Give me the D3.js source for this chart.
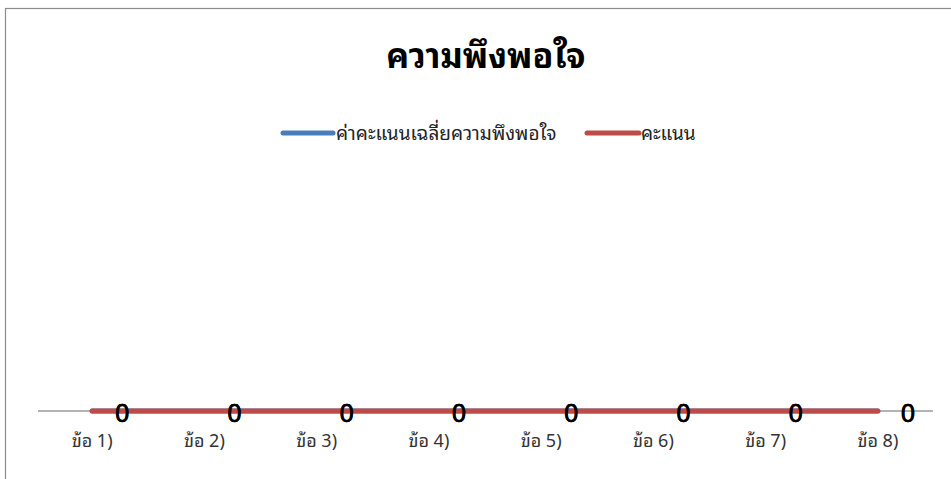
<!DOCTYPE html>
<html><head><meta charset="utf-8">
<script src="https://cdn.jsdelivr.net/npm/d3@7"></script>
<style>body{margin:0;background:#fff;}svg{display:block;}</style>
</head><body>
<svg id="c" width="951" height="479"></svg>
<script>
const categories = ["ข้อ 1)","ข้อ 2)","ข้อ 3)","ข้อ 4)","ข้อ 5)","ข้อ 6)","ข้อ 7)","ข้อ 8)"];
const seriesNames = ["ค่าคะแนนเฉลี่ยความพึงพอใจ","คะแนน"];
const avgScores = [0,0,0,0,0,0,0,0];
const scores = [0,0,0,0,0,0,0,0];
const seriesColors = ["#4a7ebb","#be4b48"];
const title = "ความพึงพอใจ";

const svg = d3.select("#c");
const thaiFont = "'Noto Sans Thai Looped','Noto Serif Thai','Loma','Garuda','Noto Sans Thai','Noto Sans','DejaVu Sans',sans-serif";
// frame
svg.append("rect").attr("x",5.5).attr("y",8.5).attr("width",1000).attr("height",600)
  .attr("fill","none").attr("stroke","#8c8c8c").attr("stroke-width",1.2);

svg.append("text").attr("x",486).attr("y",68).attr("text-anchor","middle")
  .attr("font-family",thaiFont).attr("font-weight","bold").attr("font-size",34).attr("fill","#000").text(title);

const x = d3.scaleBand().domain(categories).range([36,934]).paddingInner(0).paddingOuter(0);
const y = d3.scaleLinear().domain([0,1]).range([411,170]);

// axis
const xAxis = d3.axisBottom(x).tickSize(0).tickPadding(23);
const gx = svg.append("g").attr("transform","translate(0,"+y(0)+")").call(xAxis);
gx.select(".domain").attr("stroke","#9a9a9a").attr("stroke-width",1.5).attr("d","M38,0H933");
gx.selectAll("text").attr("font-family",thaiFont).attr("font-size",18).attr("fill","#333");

const cx = d => x(d)+x.bandwidth()/2;
const data = [avgScores, scores];
const line = d3.line().x((d,i)=>cx(categories[i])).y(d=>y(d));
data.forEach((s,k)=>{
  svg.append("path").datum(s).attr("d",line).attr("fill","none")
    .attr("stroke",seriesColors[k]).attr("stroke-width",5).attr("stroke-linecap","round");
});
// data labels
data.forEach((s,k)=>{
  svg.append("g").selectAll("text").data(s).join("text")
    .attr("x",(d,i)=>cx(categories[i])+30).attr("y",(d)=>y(d)+11)
    .attr("text-anchor","middle").attr("font-family","Arial,'Liberation Sans',sans-serif")
    .attr("font-size",25).attr("fill","#000").attr("stroke","#000").attr("stroke-width",0.4).text(d=>d);
});

// legend
const lg = [{x1:283,x2:333,tx:336},{x1:587,x2:639,tx:641}];
lg.forEach((l,k)=>{
  svg.append("line").attr("x1",l.x1).attr("x2",l.x2).attr("y1",133).attr("y2",133)
    .attr("stroke",seriesColors[k]).attr("stroke-width",5).attr("stroke-linecap","round");
  svg.append("text").attr("x",l.tx).attr("y",140).attr("font-family",thaiFont).attr("font-size",19)
    .attr("fill","#222").text(seriesNames[k]);
});
</script>
</body></html>
